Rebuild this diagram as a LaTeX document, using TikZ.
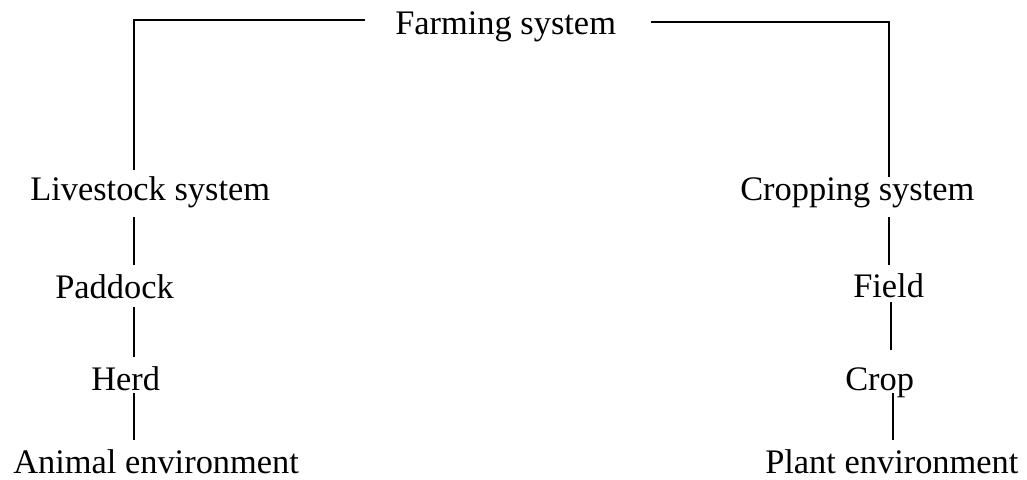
\documentclass[tikz,border=0pt]{standalone}
\usepackage{fontspec}
\setmainfont{Liberation Serif}
\usetikzlibrary{calc}
\begin{document}
\begin{tikzpicture}[x=0.75pt,y=-0.75pt,
  lbl/.style={anchor=base west,inner sep=0pt,font=\fontsize{25.8pt}{30pt}\selectfont},
  link/.style={draw=black,line width=1.4pt}]
\useasboundingbox (0,0) rectangle (1027,479);
\node[lbl] (farm) at (395,34) {Farming system};
\node[lbl] (ls) at (30,200) {Livestock system};
\node[lbl] (pad) at (55,298) {Paddock};
\node[lbl] (herd) at (91,390) {Herd};
\node[lbl] (animal) at (13,473) {Animal environment};
\node[lbl] (cs) at (740,200) {Cropping system};
\node[lbl] (field) at (853,297) {Field};
\node[lbl] (crop) at (845,390) {Crop};
\node[lbl] (plant) at (765,473) {Plant environment};
\coordinate (lcol) at (134,0);
\coordinate (rcolA) at (889,0);
\coordinate (rcolB) at (891,0);
\coordinate (rcolC) at (893,0);
% top connectors
\draw[link] ($(farm.base west)+(-30,-14)$) -| ($(ls.base -| lcol)+(0,-30)$);
\draw[link] ($(farm.base east)+(35,-12)$) -| ($(cs.base -| rcolA)+(0,-23)$);
% left column
\draw[link] ($(ls.base -| lcol)+(0,17)$) -- ($(pad.base -| lcol)+(0,-33)$);
\draw[link] ($(pad.base -| lcol)+(0,9)$) -- ($(herd.base -| lcol)+(0,-33)$);
\draw[link] ($(herd.base -| lcol)+(0,3)$) -- ($(animal.base -| lcol)+(0,-33)$);
% right column
\draw[link] ($(cs.base -| rcolA)+(0,17)$) -- ($(field.base -| rcolA)+(0,-32)$);
\draw[link] ($(field.base -| rcolB)+(0,5)$) -- ($(crop.base -| rcolB)+(0,-40)$);
\draw[link] ($(crop.base -| rcolC)+(0,3)$) -- ($(plant.base -| rcolC)+(0,-33)$);
\end{tikzpicture}
\end{document}
